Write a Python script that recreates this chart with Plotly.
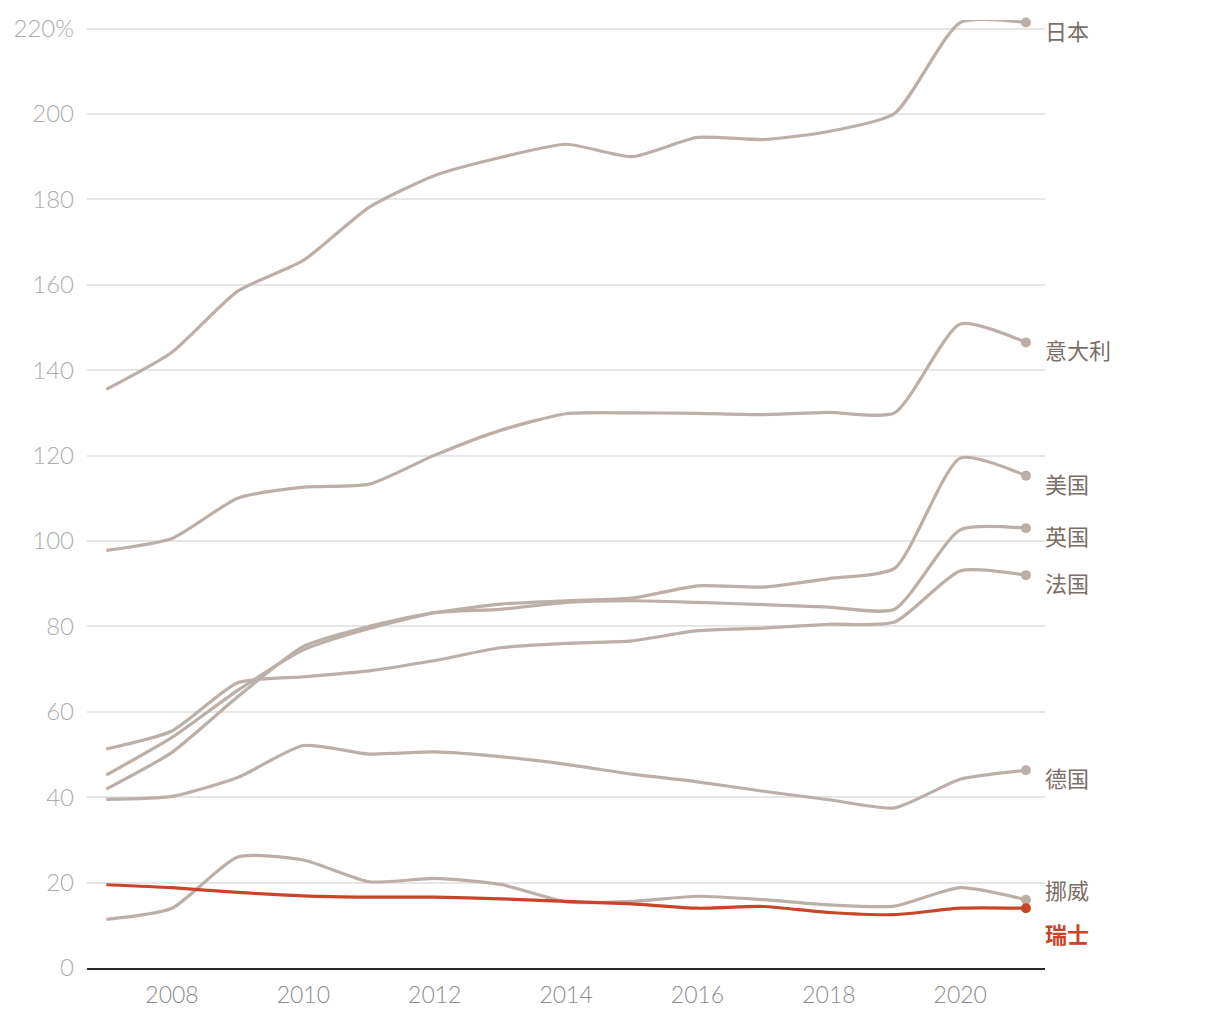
import plotly.graph_objects as go

years = list(range(2007, 2022))

japan = [135.5, 144.2, 158.5, 165.7, 178.1, 185.6, 189.8, 192.9, 190.0, 194.5, 194.0, 195.9, 200.1, 221.4, 221.4]
italy = [97.8, 100.6, 110.0, 112.6, 113.3, 120.1, 125.9, 129.8, 130.0, 129.9, 129.6, 130.1, 130.0, 150.8, 146.5]
usa = [45.2, 54.0, 65.0, 74.5, 79.5, 83.2, 85.2, 86.0, 86.6, 89.5, 89.2, 91.2, 93.6, 119.4, 115.3]
uk = [41.9, 50.5, 63.5, 75.3, 80.0, 83.2, 84.0, 85.6, 86.0, 85.6, 85.1, 84.5, 84.0, 102.6, 103.0]
france = [51.3, 55.5, 66.8, 68.2, 69.6, 72.0, 75.0, 76.0, 76.6, 79.0, 79.6, 80.5, 81.0, 93.0, 92.0]
germany = [39.5, 40.2, 44.6, 52.1, 50.1, 50.6, 49.5, 47.7, 45.4, 43.6, 41.4, 39.4, 37.5, 44.2, 46.3]
norway = [11.4, 14.0, 26.0, 25.3, 20.2, 21.0, 19.6, 15.5, 15.6, 16.8, 16.0, 14.8, 14.5, 18.8, 16.0]
switzerland = [19.5, 18.8, 17.7, 16.9, 16.6, 16.6, 16.2, 15.6, 15.0, 14.0, 14.4, 13.0, 12.5, 14.0, 14.0]

series_names = ["日本", "意大利", "美国", "英国", "法国", "德国", "挪威", "瑞士"]
series_values = [japan, italy, usa, uk, france, germany, norway, switzerland]
label_yshift = [-7, -7, -7, -7, -7, -7, 11, -25]

y_tick_vals = [0, 20, 40, 60, 80, 100, 120, 140, 160, 180, 200, 220]
y_tick_text = ["0", "20", "40", "60", "80", "100", "120", "140", "160", "180", "200", "220%"]
x_tick_vals = [2008, 2010, 2012, 2014, 2016, 2018, 2020]

GREY = "#bcafa8"
GREY_TEXT = "#7a6e67"
RED = "#c8452a"

fig = go.Figure()
annotations = []
for name, vals, ys in zip(series_names, series_values, label_yshift):
    is_ch = name == "瑞士"
    color = RED if is_ch else GREY
    fig.add_trace(go.Scatter(
        x=years, y=vals, mode="lines",
        line=dict(color=color, width=3.2, shape="spline", smoothing=0.6),
        hoverinfo="skip", showlegend=False, cliponaxis=False,
    ))
    fig.add_trace(go.Scatter(
        x=[years[-1]], y=[vals[-1]], mode="markers",
        marker=dict(color=color, size=10),
        hoverinfo="skip", showlegend=False, cliponaxis=False,
    ))
    annotations.append(dict(
        x=years[-1], y=vals[-1], xref="x", yref="y",
        text=f"<b>{name}</b>" if is_ch else name,
        showarrow=False, xanchor="left", yanchor="middle",
        xshift=17, yshift=ys,
        font=dict(family="Noto Sans CJK SC", size=22,
                  color=RED if is_ch else GREY_TEXT),
    ))

fig.update_layout(
    width=1204, height=1004,
    margin=dict(l=79, r=167, t=11.5, b=44),
    paper_bgcolor="white", plot_bgcolor="white",
    annotations=annotations,
    font=dict(family="Lato", size=23),
)
fig.update_xaxes(
    range=[2006.706, 2021.29],
    tickvals=x_tick_vals, automargin=False,
    ticks="", showgrid=False, zeroline=False,
    showline=True, linecolor="#2a2a2a", linewidth=2,
    tickfont=dict(family="Lato", size=23, color="#8c8c8c", weight=300),
    ticklabelstandoff=5,
)
fig.update_yaxes(
    range=[0, 222], automargin=False,
    tickvals=y_tick_vals, ticktext=y_tick_text,
    ticks="", showgrid=True, gridcolor="#e6e6e6", gridwidth=1.5,
    zeroline=False, showline=False,
    tickfont=dict(family="Lato", size=24, color="#adadad", weight=300),
    ticklabelstandoff=12,
)

fig.write_html("out.html")
